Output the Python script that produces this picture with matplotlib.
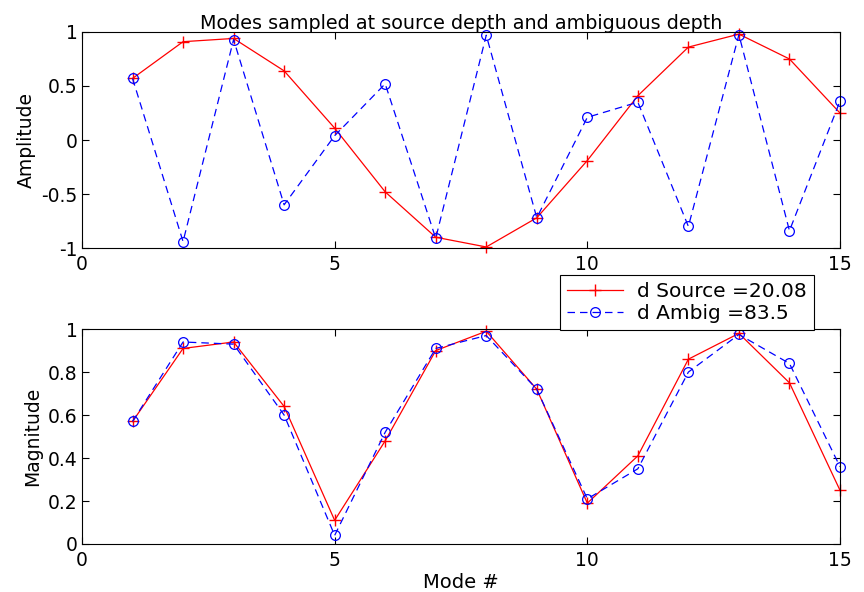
import numpy as np
import matplotlib
matplotlib.use("Agg")
import matplotlib.pyplot as plt

plt.rcParams['font.family'] = ['DejaVu Sans']
plt.rcParams['axes.unicode_minus'] = False

modes = list(range(1, 16))
source_amp = [0.57, 0.91, 0.94, 0.64, 0.11, -0.48, -0.90, -0.99, -0.72, -0.19,
              0.41, 0.86, 0.98, 0.75, 0.25]
ambig_amp = [0.57, -0.94, 0.93, -0.60, 0.04, 0.52, -0.91, 0.97, -0.72, 0.21,
             0.35, -0.80, 0.975, -0.84, 0.36]
source_label = "d Source =20.08"
ambig_label = "d Ambig =83.5"

fig = plt.figure(figsize=(8.64, 5.92), dpi=100)
ax1 = fig.add_axes([0.0949, 0.581, 0.8773, 0.365])
ax2 = fig.add_axes([0.0949, 0.0811, 0.8773, 0.363])

def style(ax):
    ax.tick_params(direction='in', top=True, right=True, length=5, width=0.8,
                   labelsize=13.5)
    ax.tick_params(axis='y', pad=3)
    ax.tick_params(axis='x', pad=5)
    for s in ax.spines.values():
        s.set_linewidth(0.8)
    ax.set_xlim(0, 15)
    ax.set_xticks([0, 5, 10, 15])

l1, = ax1.plot(modes, source_amp, color='red', lw=0.9, marker='+', ms=9, mew=1.0,
               label=source_label, clip_on=False)
l2, = ax1.plot(modes, ambig_amp, color='blue', lw=0.9, ls=(0, (6, 4)), marker='o',
               ms=7, mfc='none', mew=0.9, label=ambig_label, clip_on=False)
style(ax1)
ax1.set_ylim(-1, 1)
ax1.set_yticks([-1, -0.5, 0, 0.5, 1])
ax1.set_yticklabels(['-1', '-0.5', '0', '0.5', '1'])
ax1.set_ylabel('Amplitude', fontsize=13.5, labelpad=4)
ax1.set_title('Modes sampled at source depth and ambiguous depth', fontsize=13.8, pad=2)

ax2.plot(modes, np.abs(source_amp), color='red', lw=0.9, marker='+', ms=9, mew=1.0,
         clip_on=False)
ax2.plot(modes, np.abs(ambig_amp), color='blue', lw=0.9, ls=(0, (6, 4)), marker='o',
         ms=7, mfc='none', mew=0.9, clip_on=False)
style(ax2)
ax2.set_ylim(0, 1)
ax2.set_yticks([0, 0.2, 0.4, 0.6, 0.8, 1])
ax2.set_yticklabels(['0', '0.2', '0.4', '0.6', '0.8', '1'])
ax2.set_ylabel('Magnitude', fontsize=13.5, labelpad=4)
ax2.set_xlabel('Mode #', fontsize=14, labelpad=2)

leg = fig.legend(handles=[l1, l2], loc='upper left', bbox_to_anchor=(0.648, 0.5355),
                 fontsize=14.5, fancybox=False, framealpha=1, edgecolor='black',
                 handlelength=2.8, borderpad=0.35, labelspacing=0.15,
                 handletextpad=0.7, borderaxespad=0)
leg.get_frame().set_linewidth(0.8)

fig.savefig('out.png', dpi=100)
